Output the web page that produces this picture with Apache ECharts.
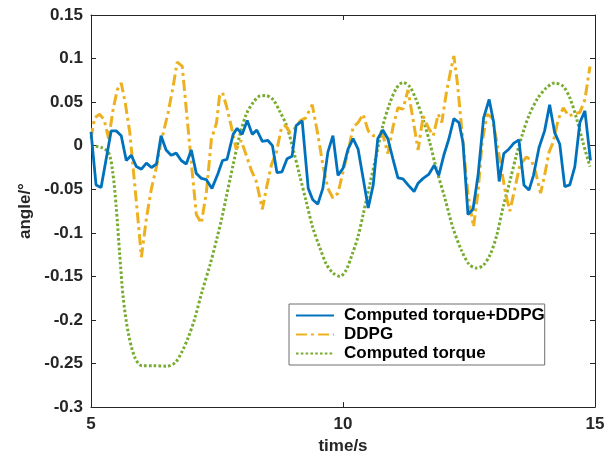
<!DOCTYPE html>
<html><head><meta charset="utf-8">
<script src="https://cdn.jsdelivr.net/npm/echarts@6/dist/echarts.min.js"></script>
<style>html,body{margin:0;padding:0;background:#fff}#c{width:616px;height:460px}</style>
</head><body><div id="c"></div>
<script>
const seriesNames = ['Computed torque+DDPG', 'DDPG', 'Computed torque'];
const xTicks = [5, 10, 15];
const yTicks = [-0.3, -0.25, -0.2, -0.15, -0.1, -0.05, 0, 0.05, 0.1, 0.15];

const ctDdpg = [[5.0,0.016],[5.1,-0.045],[5.2,-0.048],[5.4,0.017],[5.5,0.017],[5.6,0.0115],[5.7,-0.017],[5.8,-0.011],[5.9,-0.024],[6.0,-0.027],[6.1,-0.020],[6.2,-0.025],[6.3,-0.021],[6.39,0.0115],[6.49,-0.005],[6.59,-0.011],[6.69,-0.0085],[6.79,-0.017],[6.89,-0.021],[6.99,-0.005],[7.09,-0.032],[7.19,-0.0375],[7.29,-0.039],[7.4,-0.049],[7.52,-0.032],[7.61,-0.017],[7.7,-0.0156],[7.82,0.013],[7.9,0.020],[8.0,0.013],[8.1,0.029],[8.2,0.013],[8.29,0.018],[8.4,0.005],[8.51,0.006],[8.6,0],[8.69,-0.031],[8.79,-0.030],[8.89,-0.015],[8.99,-0.012],[9.07,0.023],[9.19,0.0285],[9.31,-0.049],[9.4,-0.062],[9.5,-0.067],[9.6,-0.049],[9.7,-0.0074],[9.8,0.0115],[9.9,-0.034],[10.0,-0.026],[10.1,-0.004],[10.2,0.008],[10.3,-0.004],[10.4,-0.0375],[10.5,-0.0715],[10.6,-0.045],[10.69,0.008],[10.79,0.018],[10.89,0.008],[10.99,-0.015],[11.09,-0.037],[11.19,-0.038],[11.29,-0.045],[11.41,-0.0526],[11.49,-0.043],[11.59,-0.0375],[11.7,-0.033],[11.81,-0.0224],[11.9,-0.034],[12.0,-0.011],[12.1,0.0077],[12.2,0.031],[12.3,0.0266],[12.38,0.004],[12.48,-0.079],[12.58,-0.073],[12.68,-0.034],[12.79,0.032],[12.9,0.053],[12.99,0.0266],[13.1,-0.041],[13.19,-0.009],[13.29,-0.004],[13.39,0.003],[13.49,0.0066],[13.59,-0.045],[13.69,-0.051],[13.78,-0.034],[13.89,-0.002],[14.0,0.017],[14.1,0.047],[14.2,0.015],[14.3,0.002],[14.4,-0.047],[14.5,-0.045],[14.6,-0.024],[14.7,0.0266],[14.8,0.040],[14.91,-0.017]];

const ddpg = [[5.0,0.008],[5.07,0.032],[5.17,0.036],[5.26,0.030],[5.35,0.008],[5.44,0.042],[5.52,0.064],[5.60,0.072],[5.68,0.049],[5.77,0.015],[5.85,-0.034],[5.93,-0.083],[6.0,-0.128],[6.10,-0.083],[6.20,-0.049],[6.30,-0.024],[6.39,0.004],[6.53,0.038],[6.63,0.068],[6.71,0.096],[6.81,0.0914],[6.89,0.042],[6.99,-0.019],[7.09,-0.079],[7.19,-0.089],[7.29,-0.053],[7.39,0.008],[7.49,0.026],[7.55,0.057],[7.61,0.061],[7.69,0.045],[7.78,0.023],[7.88,-0.004],[7.98,0.006],[8.08,-0.011],[8.18,-0.028],[8.28,-0.041],[8.40,-0.073],[8.48,-0.049],[8.58,-0.022],[8.68,-0.007],[8.78,0.021],[8.86,0.023],[8.95,0.015],[9.06,0.021],[9.15,0.0285],[9.26,0.032],[9.39,0.047],[9.50,0.013],[9.60,-0.022],[9.70,-0.049],[9.80,-0.060],[9.90,-0.0545],[10.0,-0.030],[10.10,-0.007],[10.20,0.021],[10.30,0.0266],[10.40,0.036],[10.50,0.017],[10.60,0.0115],[10.69,0.0115],[10.79,0.013],[10.89,-0.009],[10.99,0.021],[11.09,0.0435],[11.19,0.042],[11.29,0.064],[11.39,0.030],[11.49,-0.005],[11.59,0.034],[11.69,0.021],[11.79,0.0115],[11.89,0.036],[11.96,0.0266],[12.05,0.0605],[12.14,0.087],[12.20,0.103],[12.27,0.072],[12.35,0.023],[12.41,-0.015],[12.48,-0.056],[12.59,-0.093],[12.68,-0.0526],[12.76,0.004],[12.86,0.036],[12.96,0.032],[13.04,0.008],[13.14,-0.026],[13.23,-0.056],[13.31,-0.075],[13.41,-0.049],[13.51,-0.022],[13.64,-0.013],[13.74,-0.017],[13.82,-0.030],[13.92,-0.0545],[14.0,-0.034],[14.09,-0.007],[14.17,0.004],[14.27,0.030],[14.37,0.0435],[14.48,0.034],[14.60,0.037],[14.70,0.038],[14.80,0.053],[14.90,0.091]];

const computedTorque = [[5.0,0.0],[5.2,-0.002],[5.35,-0.008],[5.43,-0.03],[5.5,-0.07],[5.57,-0.125],[5.64,-0.175],[5.74,-0.215],[5.87,-0.243],[6.01,-0.2525],[6.24,-0.2525],[6.5,-0.253],[6.67,-0.249],[6.80,-0.237],[6.93,-0.220],[7.06,-0.198],[7.2,-0.168],[7.36,-0.137],[7.5,-0.106],[7.6,-0.082],[7.68,-0.060],[7.82,-0.022],[7.95,0.0115],[8.08,0.036],[8.21,0.049],[8.35,0.057],[8.47,0.0575],[8.61,0.053],[8.74,0.040],[8.88,0.023],[9.01,-0.004],[9.14,-0.034],[9.27,-0.064],[9.40,-0.094],[9.54,-0.117],[9.67,-0.136],[9.8,-0.146],[9.94,-0.150],[10.06,-0.143],[10.18,-0.125],[10.29,-0.106],[10.40,-0.079],[10.53,-0.045],[10.66,-0.011],[10.79,0.023],[10.93,0.049],[11.06,0.066],[11.19,0.0726],[11.32,0.068],[11.45,0.053],[11.59,0.030],[11.72,0.004],[11.85,-0.026],[12.02,-0.060],[12.18,-0.094],[12.35,-0.120],[12.50,-0.136],[12.65,-0.1405],[12.78,-0.1375],[12.92,-0.125],[13.05,-0.103],[13.17,-0.072],[13.31,-0.041],[13.44,-0.011],[13.57,0.015],[13.70,0.036],[13.87,0.055],[14.03,0.066],[14.20,0.072],[14.37,0.068],[14.50,0.055],[14.63,0.032],[14.76,0.004],[14.90,-0.024]];

const FONT = 'Liberation Sans, Arial, sans-serif';
const AX = '#262626';
const chart = echarts.init(document.getElementById('c'), null, {renderer: 'canvas'});
const baseX = {type: 'value', min: xTicks[0], max: xTicks[xTicks.length-1], interval: 5,
  axisLine: {onZero: false, lineStyle: {color: AX, width: 1}}, splitLine: {show: false},
  axisTick: {inside: true, length: 5, lineStyle: {color: AX}}};
const baseY = {type: 'value', min: yTicks[0], max: yTicks[yTicks.length-1], interval: 0.05,
  axisLine: {show: true, onZero: false, lineStyle: {color: AX, width: 1}}, splitLine: {show: false},
  axisTick: {inside: true, length: 5, lineStyle: {color: AX}}};
chart.setOption({
  animation: false,
  backgroundColor: '#fff',
  grid: {left: 91, top: 15, right: 21, bottom: 47, containLabel: false},
  xAxis: [
    Object.assign({}, baseX, {position: 'bottom', name: 'time/s', nameLocation: 'middle', nameGap: 29,
      nameTextStyle: {fontFamily: FONT, fontWeight: 'bold', fontSize: 17, color: AX},
      axisLabel: {fontFamily: FONT, fontWeight: 'bold', fontSize: 17, color: AX, margin: 9}}),
    Object.assign({}, baseX, {position: 'top', axisLabel: {show: false}})
  ],
  yAxis: [
    Object.assign({}, baseY, {position: 'left', name: 'angle/°', nameLocation: 'middle', nameGap: 57,
      nameTextStyle: {fontFamily: FONT, fontWeight: 'bold', fontSize: 17, color: AX},
      axisLabel: {fontFamily: FONT, fontWeight: 'bold', fontSize: 17, color: AX, margin: 8,
        formatter: v => String(Math.round(v*100)/100)}}),
    Object.assign({}, baseY, {position: 'right', axisLabel: {show: false}})
  ],
  legend: {
    orient: 'vertical', left: 289, top: 304,
    backgroundColor: '#fff', borderColor: '#6e6e6e', borderWidth: 1,
    padding: [3, 0, 3, 6], itemGap: 2, itemWidth: 38, itemHeight: 14,
    itemStyle: {opacity: 0},
    textStyle: {fontFamily: FONT, fontWeight: 'bold', fontSize: 17, color: '#000', padding: [0,0,0,5]},
    data: seriesNames
  },
  series: [
    {name: seriesNames[0], type: 'line', data: ctDdpg, showSymbol: false, symbol: 'none',
      lineStyle: {color: '#0072BD', width: 2.8}, itemStyle: {color: '#0072BD'}, z: 4},
    {name: seriesNames[1], type: 'line', data: ddpg, showSymbol: false, symbol: 'none',
      lineStyle: {color: '#EDB120', width: 3, type: [11, 4, 3, 4]}, itemStyle: {color: '#EDB120'}, z: 3},
    {name: seriesNames[2], type: 'line', data: computedTorque, showSymbol: false, symbol: 'none', smooth: 0.3,
      lineStyle: {color: '#77AC30', width: 3, type: [2.6, 2.2]}, itemStyle: {color: '#77AC30'}, z: 2}
  ]
});
</script></body></html>
